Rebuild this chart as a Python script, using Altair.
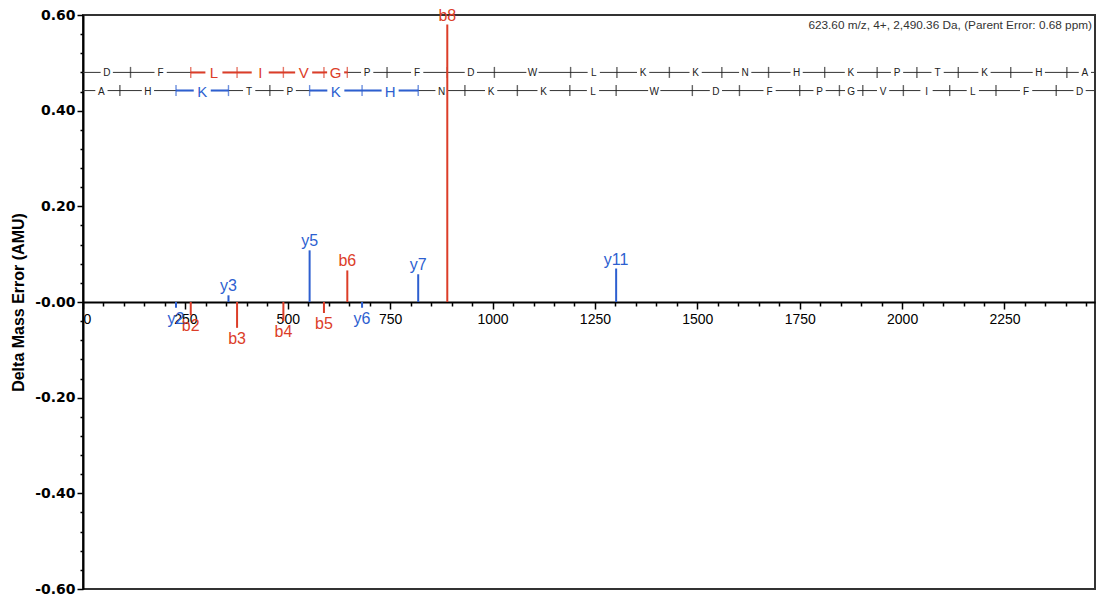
import altair as alt
import pandas as pd

RED = "#dc3d28"
BLUE = "#2d5fd0"
INK = "#222222"
FONT = "Liberation Sans"

# ---- data ----
sequence = list("DFLIVGPFDWLKKNHKPTKHA")
sequence_rev = sequence[::-1]
b_ladder = [116.03, 263.10, 376.18, 489.27, 588.33, 645.36, 742.41, 889.48, 1004.50,
            1190.58, 1303.67, 1431.76, 1559.86, 1673.90, 1810.96, 1939.06, 2036.11,
            2137.16, 2265.25, 2402.31]
y_ladder = [90.06, 227.11, 355.21, 456.26, 553.31, 681.40, 818.46, 932.50, 1060.60,
            1188.69, 1301.78, 1487.86, 1602.89, 1749.95, 1847.01, 1904.03, 2003.10,
            2116.18, 2229.26, 2376.33]
x_end = 2490.36          # sequence end (parent mass)
x_view_end = 2471        # visible end of the m/z axis
row_b = 0.480
row_y = 0.442

peak_labels = ["b2", "b3", "b4", "b5", "b6", "b8", "y2", "y3", "y5", "y6", "y7", "y11"]
peak_mz = [263.10, 376.18, 489.27, 588.33, 645.36, 889.48, 227.11, 355.21, 553.31, 681.40, 818.46, 1301.78]
peak_err = [-0.028, -0.054, -0.040, -0.023, 0.066, 0.580, -0.012, 0.014, 0.108, -0.012, 0.058, 0.070]

header = "623.60 m/z, 4+, 2,490.36 Da,  (Parent Error: 0.68 ppm)"
y_title = "Delta Mass Error (AMU)"
x_ticks = [i * 50 for i in range(50)]
y_ticks = [round(-0.6 + 0.04 * i, 2) for i in range(31)]

# ---- tables ----
def ladder(letters, ions, prefix, row, kind):
    observed = {int(l[1:]) for l in peak_labels if l.startswith(prefix)}
    bounds = [0] + ions + [x_end]
    let, segs, ticks = [], [], []
    for j, aa in enumerate(letters):
        colored = (j in observed) and ((j + 1) in observed)
        let.append(dict(x=(bounds[j] + bounds[j + 1]) / 2, y=row, aa=aa,
                        kind=kind if colored else "n"))
        if colored:
            segs.append(dict(x=bounds[j], x2=bounds[j + 1], y=row, kind=kind))
    for k, mz in enumerate(ions, start=1):
        colored = k in observed and ((k - 1) in observed or (k + 1) in observed)
        ticks.append(dict(x=mz, y=row, kind=kind if colored else "n"))
    return let, segs, ticks

lb, sb, tb = ladder(sequence, b_ladder, "b", row_b, "b")
ly, sy, ty = ladder(sequence_rev, y_ladder, "y", row_y, "y")
letters_df = pd.DataFrame(lb + ly)
segs_df = pd.DataFrame(sb + sy)
ticks_df = pd.DataFrame(tb + ty)
base_df = pd.DataFrame([dict(x=0, x2=x_view_end, y=row_b), dict(x=0, x2=x_view_end, y=row_y)])
peaks_df = pd.DataFrame(dict(x=peak_mz, y=peak_err, label=peak_labels,
                             kind=[l[0] for l in peak_labels], zero=0.0))

# ---- scales / axes ----
W, H = 1012, 574
xs = alt.Scale(domain=[0, x_view_end], nice=False, zero=False)
ys = alt.Scale(domain=[-0.6, 0.6], nice=False)
cs = alt.Scale(domain=["b", "y", "n"], range=[RED, BLUE, INK])

x_axis = alt.Axis(values=x_ticks, orient="bottom", offset=-(H / 2), title=None, format="d",
                  labelExpr="datum.value % 250 === 0 ? datum.label : ''",
                  labelOverlap=False, labelFont=FONT, labelFontSize=14, labelColor="black",
                  labelPadding=3, tickColor="black", tickWidth=1.5,
                  tickSize={"condition": {"test": "datum.value % 250 === 0", "value": 7}, "value": 4},
                  domainColor="black", domainWidth=2, grid=False)
y_axis = alt.Axis(values=y_ticks, title=y_title, titleFont=FONT, titleFontSize=16,
                  titleFontWeight="bold", titleColor="black", titleX=-65, titleBaseline="middle",
                  labelExpr="round(datum.value*100) % 20 === 0 ? ((datum.value < 0.001 ? '-' : '') + format(abs(datum.value), '.2f')) : ''",
                  labelOverlap=False, labelFont="DejaVu Sans", labelFontSize=14, labelFontWeight="bold",
                  labelColor="black", labelPadding=2, tickColor="black", tickWidth=1.5,
                  tickSize={"condition": {"test": "round(datum.value*100) % 20 === 0", "value": 6}, "value": 3},
                  domainColor="black", domainWidth=2, grid=False)

X = alt.X("x:Q", scale=xs, axis=x_axis)
Y = alt.Y("y:Q", scale=ys, axis=y_axis)
C = alt.Color("kind:N", scale=cs, legend=None)

base = alt.Chart(base_df).mark_rule(color="#333333", strokeWidth=1).encode(x=X, x2="x2:Q", y=Y)
segs = alt.Chart(segs_df).mark_rule(strokeWidth=2).encode(x=X, x2="x2:Q", y=Y, color=C)
gap_small = alt.Chart(letters_df).transform_filter("datum.kind === 'n'").mark_square(
    size=150, color="white", opacity=1, filled=True).encode(x=X, y=Y)
gap_big = alt.Chart(letters_df).transform_filter("datum.kind !== 'n'").mark_square(
    size=290, color="white", opacity=1, filled=True).encode(x=X, y=Y)
ticks = alt.Chart(ticks_df).mark_tick(orient="vertical", size=11, thickness=1.4).encode(x=X, y=Y, color=C)
let_small = alt.Chart(letters_df).transform_filter("datum.kind === 'n'").mark_text(
    font=FONT, fontSize=10, baseline="middle", dy=1).encode(x=X, y=Y, text="aa:N", color=C)
let_big = alt.Chart(letters_df).transform_filter("datum.kind !== 'n'").mark_text(
    font=FONT, fontSize=15, baseline="middle", dy=1).encode(x=X, y=Y, text="aa:N", color=C)

peaks = alt.Chart(peaks_df).mark_rule(strokeWidth=2).encode(x=X, y=Y, y2="zero:Q", color=C)
lab_pos = alt.Chart(peaks_df).transform_filter("datum.y > 0").mark_text(
    font=FONT, fontSize=16, baseline="bottom", dy=-1).encode(x=X, y=Y, text="label:N", color=C)
lab_neg = alt.Chart(peaks_df).transform_filter("datum.y < 0").mark_text(
    font=FONT, fontSize=16, baseline="top", dy=3).encode(x=X, y=Y, text="label:N", color=C)

head = alt.Chart(pd.DataFrame({"t": [header]})).mark_text(
    font=FONT, fontSize=11.8, align="right", baseline="middle", color="#333333").encode(
    x=alt.value(W - 3), y=alt.value(10), text="t:N")

chart = alt.layer(base, segs, gap_small, gap_big, ticks, let_small, let_big,
                  peaks, lab_pos, lab_neg, head).properties(
    width=W, height=H,
    autosize=alt.AutoSizeParams(type="none"),
    padding={"left": 75, "top": 7, "right": 1, "bottom": 8},
    background="white",
).configure_view(stroke="#333333", strokeWidth=2)

chart.save("out.html", embed_options={"renderer": "svg", "actions": False})
